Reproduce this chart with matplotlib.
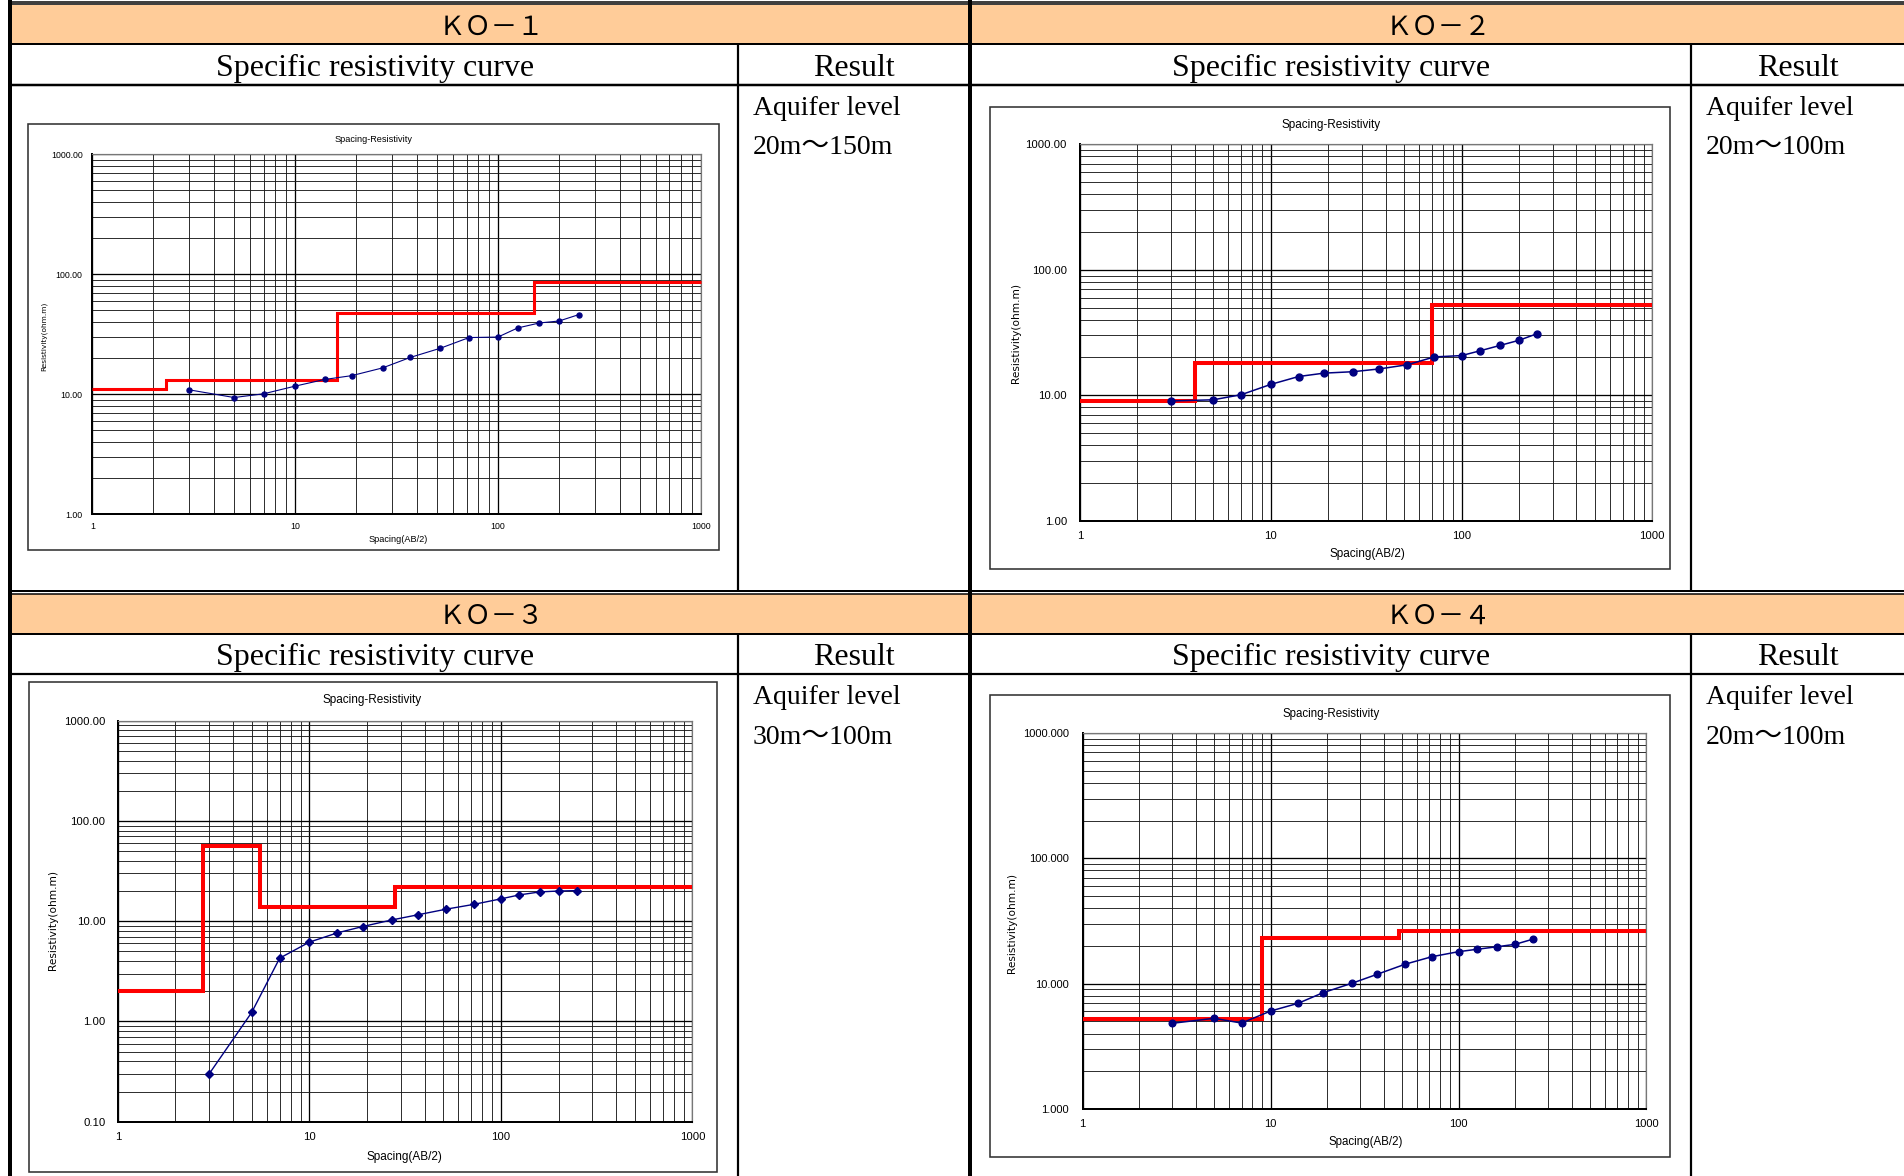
import matplotlib
matplotlib.use('Agg')
import matplotlib.pyplot as plt
from matplotlib.patches import Rectangle
from matplotlib.ticker import FixedLocator, FixedFormatter, LogLocator, NullFormatter

W, H = 1904, 1176
ORANGE = '#FFCC99'
NAVY = '#000080'
RED = '#FF0000'

# AB/2 spacings (m), same for every sounding
spacing = [3, 5, 7, 10, 14, 19, 27, 37, 52, 72, 100, 125, 160, 200, 250]

# apparent resistivity readings (ohm.m)
ko1_rho = [10.9, 9.4, 10.1, 11.7, 13.3, 14.3, 16.6, 20.3, 24.2, 29.7, 30.0, 35.7, 39.3, 40.8, 46.1]
ko2_rho = [9.0, 9.2, 10.1, 12.2, 14.1, 15.0, 15.4, 16.2, 17.5, 20.2, 20.7, 22.6, 25.0, 27.4, 31.0]
ko3_rho = [0.30, 1.23, 4.28, 6.18, 7.65, 8.85, 10.3, 11.6, 13.2, 14.7, 16.7, 18.3, 19.6, 20.0, 20.2]
ko4_rho = [4.83, 5.29, 4.85, 6.05, 6.97, 8.47, 10.06, 11.9, 14.3, 16.4, 18.0, 18.8, 19.7, 20.6, 22.7]

# interpreted layer models: layer boundaries and layer resistivity
ko1_edges = [1, 2.3, 16, 150, 1000]
ko1_layers = [11.0, 13.2, 47.3, 86.9]
ko2_edges = [1, 4.0, 70, 1000]
ko2_layers = [9.0, 18.0, 52.0]
ko3_edges = [1, 2.8, 5.55, 28, 1000]
ko3_layers = [2.0, 56.4, 13.9, 22.0]
ko4_edges = [1, 9.0, 48, 1000]
ko4_layers = [5.2, 23.3, 26.3]

names = ['ＫＯ－１', 'ＫＯ－２', 'ＫＯ－３', 'ＫＯ－４']
aquifer = ['20m～150m', '20m～100m', '30m～100m', '20m～100m']

x_ticks = [1, 10, 100, 1000]
x_labels = ['1', '10', '100', '1000']

SERIF = ['Liberation Serif', 'Noto Sans CJK JP']
SANS = ['Liberation Sans', 'DejaVu Sans']
plt.rcParams['font.family'] = SANS


def px(v):
    # pixels -> points at dpi 100
    return v * 0.72


def draw_table(bg):
    for y0 in (4.7, 594):
        bg.add_patch(Rectangle((12, y0), W - 12, 38.8, color=ORANGE, lw=0, zorder=0))
    hl = [(1.5, 1.5), (4.0, 1.5), (44.3, 2.0), (85.0, 2.5),
          (591.0, 2.0), (593.8, 1.5), (633.6, 2.0), (674.3, 2.2)]
    for y, w in hl:
        bg.plot([8, W], [y, y], color='black', lw=px(w), solid_capstyle='butt')
    bg.plot([10, 10], [0, H], color='black', lw=px(4), solid_capstyle='butt')
    bg.plot([970, 970], [0, H], color='black', lw=px(4), solid_capstyle='butt')
    for x in (738, 1691):
        bg.plot([x, x], [44, 591], color='black', lw=px(2.2), solid_capstyle='butt')
        bg.plot([x, x], [633, H], color='black', lw=px(2.2), solid_capstyle='butt')

    cells = [(12, 738, 970, 0), (972, 1691, W, 0), (12, 738, 970, 589), (972, 1691, W, 589)]
    for (x0, xm, x1, dy), name, aq in zip(cells, names, aquifer):
        bg.text((x0 + x1) / 2, 27 + dy, name, ha='center', va='center',
                fontsize=19, family=['Noto Sans CJK JP'])
        bg.text((x0 + xm) / 2, 68.5 + dy, 'Specific resistivity curve', ha='center',
                va='center', fontsize=23, family=SERIF)
        bg.text((xm + x1) / 2, 68.5 + dy, 'Result', ha='center', va='center',
                fontsize=23, family=SERIF)
        bg.text(xm + 15, 108.5 + dy, 'Aquifer level', ha='left', va='center',
                fontsize=20, family=SERIF)
        bg.text(xm + 15, 148 + dy, aq, ha='left', va='center',
                fontsize=20, family=SERIF)


def draw_chart(fig, bg, c):
    fx0, fy0, fx1, fy1 = c['frame']
    bg.add_patch(Rectangle((fx0, fy0), fx1 - fx0, fy1 - fy0, fill=False,
                           ec='#333333', lw=px(1.6), zorder=1))
    x0, y0, x1, y1 = c['plot']
    ax = fig.add_axes([x0 / W, 1 - y1 / H, (x1 - x0) / W, (y1 - y0) / H])
    ax.set_xscale('log')
    ax.set_yscale('log')
    ax.set_xlim(1, 1000)
    ax.set_ylim(c['ylim'])
    ax.patch.set_alpha(0)

    ax.xaxis.set_major_locator(FixedLocator(x_ticks))
    ax.xaxis.set_major_formatter(FixedFormatter(x_labels))
    ax.xaxis.set_minor_locator(LogLocator(base=10, subs=range(2, 10)))
    ax.xaxis.set_minor_formatter(NullFormatter())
    ax.yaxis.set_major_locator(FixedLocator(c['yticks']))
    ax.yaxis.set_major_formatter(FixedFormatter([c['yfmt'].format(v) for v in c['yticks']]))
    ax.yaxis.set_minor_locator(LogLocator(base=10, subs=range(2, 10)))
    ax.yaxis.set_minor_formatter(NullFormatter())
    ax.grid(which='major', color='black', lw=px(1.3))
    ax.grid(which='minor', color='#1a1a1a', lw=px(0.9))
    ax.tick_params(which='both', length=0, labelsize=c['fs'])
    ax.tick_params(axis='y', pad=c['ypad'])
    ax.tick_params(axis='x', pad=c['xpad'])
    for s in ('left', 'bottom'):
        ax.spines[s].set_linewidth(px(2))
    for s in ('top', 'right'):
        ax.spines[s].set_color('#777777')
        ax.spines[s].set_linewidth(px(1.2))

    ax.stairs(c['layers'], c['edges'], baseline=None, color=RED, lw=c['rlw'],
              zorder=3, clip_on=False)
    ax.plot(spacing, c['rho'], color=NAVY, lw=c['blw'], marker=c['marker'],
            ms=c['ms'], zorder=4)

    tx, ty = c['title']
    bg.text(tx, ty, 'Spacing-Resistivity', ha='center', va='center', fontsize=c['fs'] + 0.3)
    lx, ly = c['xlabel']
    bg.text(lx, ly, 'Spacing(AB/2)', ha='center', va='center', fontsize=c['fs'] + 0.3)
    vx, vy = c['ylabel']
    bg.text(vx, vy, 'Resistivity(ohm.m)', ha='center', va='center', rotation=90,
            fontsize=c['ylfs'], family=['DejaVu Sans'])


def main():
    fig = plt.figure(figsize=(W / 100, H / 100), dpi=100)
    bg = fig.add_axes([0, 0, 1, 1])
    bg.set_xlim(0, W)
    bg.set_ylim(H, 0)
    bg.axis('off')

    draw_table(bg)

    charts = [
        dict(frame=(28, 124, 718.7, 550), plot=(92.3, 154.3, 700.8, 514.3),
             ylim=(1, 1000), yticks=[1, 10, 100, 1000], yfmt='{:.2f}',
             fs=6.3, ylfs=5.3, ypad=7, xpad=5.5, rlw=2.2, blw=0.8, marker='o', ms=3.6,
             rho=ko1_rho, edges=ko1_edges, layers=ko1_layers,
             title=(374, 140), xlabel=(398.6, 539), ylabel=(44.5, 336.7)),
        dict(frame=(989.8, 106.7, 1670, 569), plot=(1080, 144.3, 1652.3, 520.7),
             ylim=(1, 1000), yticks=[1, 10, 100, 1000], yfmt='{:.2f}',
             fs=8.2, ylfs=7.6, ypad=9.4, xpad=7.3, rlw=2.9, blw=1.1, marker='o', ms=5,
             rho=ko2_rho, edges=ko2_edges, layers=ko2_layers,
             title=(1331, 125), xlabel=(1367.5, 554), ylabel=(1015.7, 333)),
        dict(frame=(29, 681.7, 717.3, 1171.7), plot=(117.8, 720.7, 692.4, 1121.7),
             ylim=(0.1, 1000), yticks=[0.1, 1, 10, 100, 1000], yfmt='{:.2f}',
             fs=8.2, ylfs=7.6, ypad=9, xpad=7.3, rlw=2.9, blw=1.0, marker='D', ms=3.6,
             rho=ko3_rho, edges=ko3_edges, layers=ko3_layers,
             title=(372.3, 700), xlabel=(404.9, 1156.7), ylabel=(53, 920)),
        dict(frame=(989.8, 695, 1669.7, 1157.3), plot=(1082.7, 733, 1646.5, 1109),
             ylim=(1, 1000), yticks=[1, 10, 100, 1000], yfmt='{:.3f}',
             fs=8.0, ylfs=7.6, ypad=9.8, xpad=7.3, rlw=2.9, blw=1.1, marker='o', ms=4.8,
             rho=ko4_rho, edges=ko4_edges, layers=ko4_layers,
             title=(1331, 714), xlabel=(1366, 1142.3), ylabel=(1012, 923)),
    ]
    for c in charts:
        draw_chart(fig, bg, c)

    fig.savefig('out.png', dpi=100)


if __name__ == '__main__':
    main()
